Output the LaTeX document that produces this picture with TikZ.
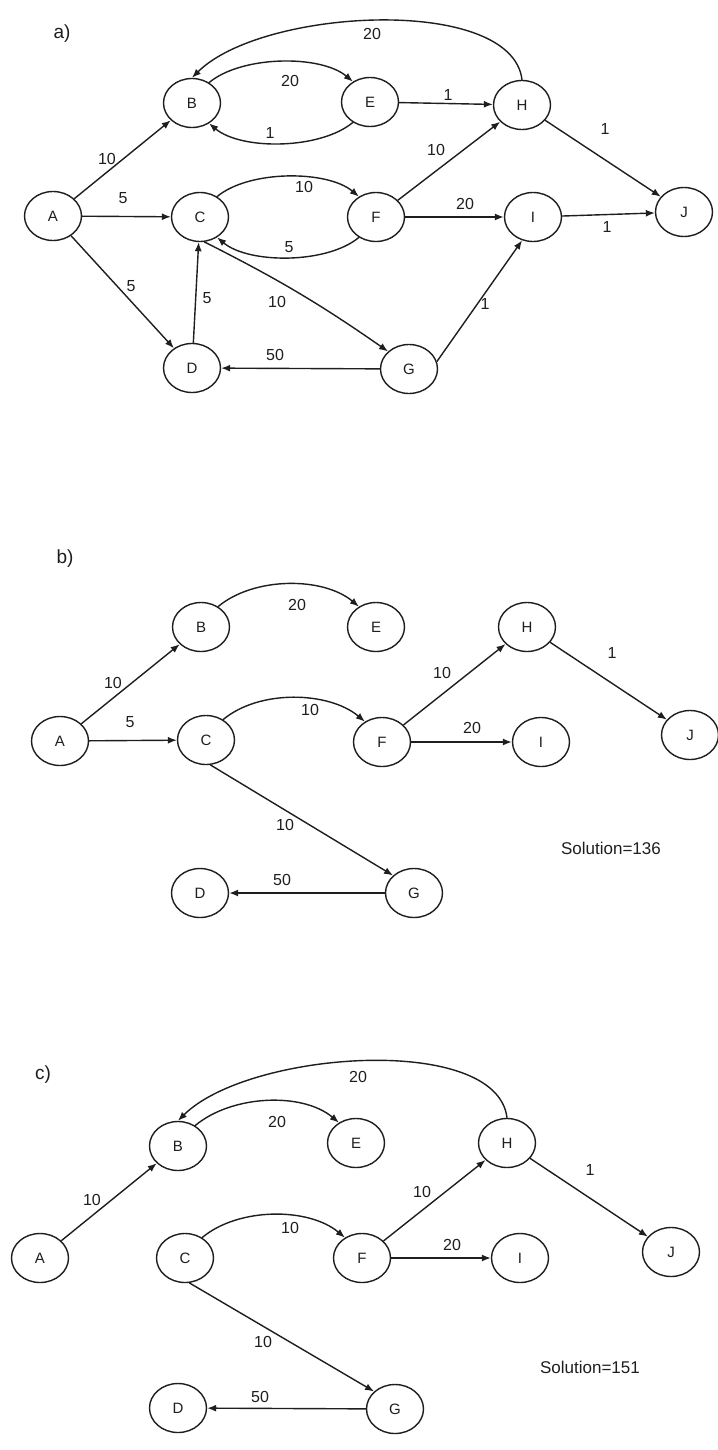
\documentclass[tikz,border=0pt]{standalone}
\usepackage{fontspec}
\setmainfont{Liberation Sans}
\usetikzlibrary{shapes.geometric,arrows.meta}
\definecolor{ink}{HTML}{1E1E1E}
\tikzset{
  vert/.style={ellipse, draw=ink, line width=1.4pt, minimum width=57pt, minimum height=49pt, inner sep=0pt, text=ink, font=\fontsize{15}{15}\selectfont},
  arc/.style={draw=ink, line width=1.4pt, -{Latex[length=9pt,width=7pt]}},
  lab/.style={inner sep=0pt, text=ink, font=\fontsize{16}{16}\selectfont},
  panel/.style={inner sep=0pt, text=ink, font=\fontsize{19}{19}\selectfont},
  sol/.style={inner sep=0pt, text=ink, font=\fontsize{17}{17}\selectfont}
}
\begin{document}
\begin{tikzpicture}[x=1pt,y=1pt]
\useasboundingbox[fill=white] (0,0) rectangle (717,-1450);

% ---------------- panel a ----------------
\node[panel] (pa) at (62,-34) {a)};
\node[vert] (aA) at (53,-216) {A};
\node[vert] (aB) at (192,-103) {B};
\node[vert] (aC) at (200,-217) {C};
\node[vert] (aD) at (192,-368) {D};
\node[vert] (aE) at (370,-102) {E};
\node[vert] (aF) at (376,-217) {F};
\node[vert] (aG) at (409,-369) {G};
\node[vert] (aH) at (522,-105) {H};
\node[vert] (aI) at (533,-217) {I};
\node[vert] (aJ) at (684,-212) {J};

\draw[arc] (aA) -- (aB);
\draw[arc] (aA) -- (aC);
\draw[arc] (aA) -- (aD);
\draw[arc] (aD) -- (aC);
\draw[arc] (aC.-80) to[bend left=4] (aG.140);
\draw[arc] (aG) -- (aD);
\draw[arc] (aB.50) to[out=40,in=140,looseness=0.75] (aE.130);
\draw[arc] (aE.-130) to[out=-140,in=-40,looseness=0.75] (aB.-50);
\draw[arc] (aC.50) to[out=40,in=140,looseness=0.75] (aF.130);
\draw[arc] (aF.-130) to[out=-140,in=-40,looseness=0.75] (aC.-50);
\draw[arc] (aE) -- (aH);
\draw[arc] (aF) -- (aH);
\draw[arc] (aF) -- (aI);
\draw[arc] (aG.15) -- (aI.-115);
\draw[arc] (aI) -- (aJ);
\draw[arc] (aH) -- (aJ);
\draw[arc] (aH.north) .. controls +(-10,85) and +(70,70) .. (aB.north);

\node[lab] (la1) at (372,-34) {20};
\node[lab] (la2) at (290,-81) {20};
\node[lab] (la3) at (270,-133) {1};
\node[lab] (la4) at (448,-95) {1};
\node[lab] (la5) at (107,-159) {10};
\node[lab] (la6) at (123,-198) {5};
\node[lab] (la7) at (304,-187) {10};
\node[lab] (la8) at (289,-247) {5};
\node[lab] (la9) at (436,-150) {10};
\node[lab] (la10) at (465,-204) {20};
\node[lab] (la11) at (605,-129) {1};
\node[lab] (la12) at (607,-227) {1};
\node[lab] (la13) at (131,-286) {5};
\node[lab] (la14) at (207,-298) {5};
\node[lab] (la15) at (277,-302) {10};
\node[lab] (la16) at (485,-304) {1};
\node[lab] (la17) at (275,-355) {50};

% ---------------- panel b ----------------
\node[panel] (pb) at (65,-559) {b)};
\node[vert] (bA) at (60,-741) {A};
\node[vert] (bB) at (201,-627) {B};
\node[vert] (bC) at (206,-740) {C};
\node[vert] (bD) at (200,-893) {D};
\node[vert] (bE) at (376,-627) {E};
\node[vert] (bF) at (382,-742) {F};
\node[vert] (bG) at (414,-893) {G};
\node[vert] (bH) at (527,-627) {H};
\node[vert] (bI) at (541,-742) {I};
\node[vert] (bJ) at (690,-735) {J};

\draw[arc] (bA) -- (bB);
\draw[arc] (bA) -- (bC);
\draw[arc] (bB.50) to[out=40,in=140,looseness=0.85] (bE.130);
\draw[arc] (bC.50) to[out=40,in=140,looseness=0.85] (bF.130);
\draw[arc] (bC.-80) -- (bG.140);
\draw[arc] (bG) -- (bD);
\draw[arc] (bF) -- (bH);
\draw[arc] (bF) -- (bI);
\draw[arc] (bH) -- (bJ);

\node[lab] (lb1) at (297,-605) {20};
\node[lab] (lb2) at (113,-683) {10};
\node[lab] (lb3) at (130,-722) {5};
\node[lab] (lb4) at (310,-710) {10};
\node[lab] (lb5) at (285,-825) {10};
\node[lab] (lb6) at (282,-880) {50};
\node[lab] (lb7) at (442,-673) {10};
\node[lab] (lb8) at (472,-728) {20};
\node[lab] (lb9) at (612,-653) {1};
\node[sol] (sb) at (611,-848) {Solution=136};

% ---------------- panel c ----------------
\node[panel] (pc) at (43,-1075) {c)};
\node[vert] (cA) at (40,-1258) {A};
\node[vert] (cB) at (178,-1146) {B};
\node[vert] (cC) at (185,-1258) {C};
\node[vert] (cD) at (178,-1408) {D};
\node[vert] (cE) at (356,-1143) {E};
\node[vert] (cF) at (362,-1258) {F};
\node[vert] (cG) at (395,-1409) {G};
\node[vert] (cH) at (507,-1143) {H};
\node[vert] (cI) at (520,-1258) {I};
\node[vert] (cJ) at (671,-1252) {J};

\draw[arc] (cA) -- (cB);
\draw[arc] (cB.50) to[out=40,in=140,looseness=0.85] (cE.130);
\draw[arc] (cC.50) to[out=40,in=140,looseness=0.85] (cF.130);
\draw[arc] (cC.-80) -- (cG.140);
\draw[arc] (cG) -- (cD);
\draw[arc] (cF) -- (cH);
\draw[arc] (cF) -- (cI);
\draw[arc] (cH) -- (cJ);
\draw[arc] (cH.north) .. controls +(-10,85) and +(70,70) .. (cB.north);

\node[lab] (lc1) at (358,-1077) {20};
\node[lab] (lc2) at (277,-1122) {20};
\node[lab] (lc3) at (92,-1200) {10};
\node[lab] (lc4) at (290,-1228) {10};
\node[lab] (lc5) at (422,-1192) {10};
\node[lab] (lc6) at (452,-1245) {20};
\node[lab] (lc7) at (590,-1170) {1};
\node[lab] (lc8) at (263,-1342) {10};
\node[lab] (lc9) at (260,-1397) {50};
\node[sol] (sc) at (590,-1367) {Solution=151};
\end{tikzpicture}
\end{document}
